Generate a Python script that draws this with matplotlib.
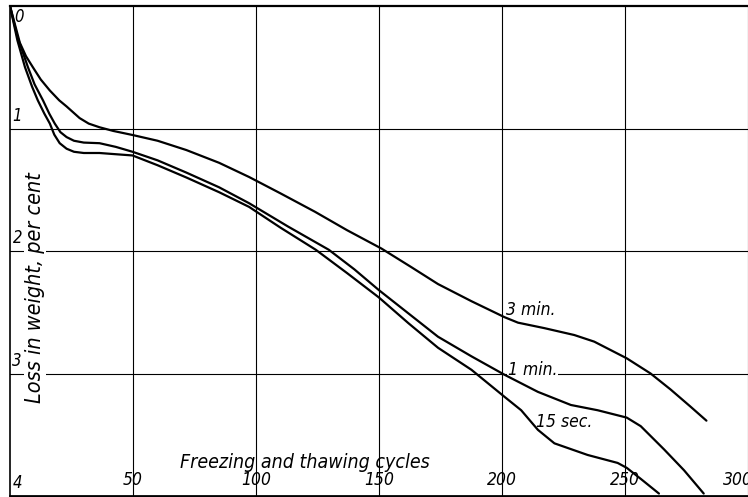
import matplotlib
matplotlib.use("Agg")
import matplotlib.pyplot as plt

# ---- data ----
x_3min = [0, 2, 4, 6.5, 9.3, 12.5, 16.2, 20, 23, 28.3, 32, 36.4, 42, 49.8, 60, 71.7, 85, 97.2, 110, 124,
          137, 151, 163, 174, 187.6, 201, 206.5, 217.3, 229.4, 237.5, 250.7, 260.4, 268.5, 276.6, 283.1]
y_3min = [0, 0.15, 0.30, 0.41, 0.50, 0.60, 0.69, 0.77, 0.82, 0.915, 0.96, 0.99, 1.02, 1.053, 1.10, 1.176, 1.28, 1.396, 1.53, 1.68,
          1.83, 1.98, 2.13, 2.27, 2.41, 2.54, 2.585, 2.63, 2.686, 2.74, 2.876, 3.0, 3.13, 3.27, 3.385]

x_1min = [0, 3, 7.3, 10, 13.4, 16, 18.2, 20.5, 23, 26, 30, 36.4, 43, 49.8, 60, 71.7, 85, 97.2, 113, 129.6,
          140, 150, 162, 174, 187.6, 201, 214.6, 228, 238.9, 250.7, 256.4, 265.9, 274, 282]
y_1min = [0, 0.25, 0.50, 0.64, 0.77, 0.88, 0.96, 1.03, 1.07, 1.10, 1.115, 1.12, 1.15, 1.19, 1.26, 1.36, 1.48, 1.61, 1.80, 1.99,
          2.15, 2.32, 2.51, 2.70, 2.86, 3.01, 3.15, 3.257, 3.30, 3.36, 3.43, 3.62, 3.79, 3.98]

x_15sec = [0, 3, 6.1, 9, 11.3, 14, 16.2, 18, 20.2, 23, 26, 30, 36.4, 43, 49.8, 60, 71.7, 85, 97.2, 110, 124.3,
           137, 150, 162, 174, 187.6, 201, 207.8, 214.6, 221.3, 234.8, 247, 250.7, 256.4, 263.8]
y_15sec = [0, 0.28, 0.50, 0.66, 0.77, 0.88, 0.96, 1.05, 1.12, 1.165, 1.19, 1.20, 1.20, 1.21, 1.22, 1.30, 1.40, 1.52, 1.64, 1.81, 1.99,
           2.18, 2.38, 2.59, 2.79, 2.97, 3.19, 3.30, 3.46, 3.57, 3.665, 3.73, 3.77, 3.86, 3.98]

x_ticks = [50, 100, 150, 200, 250, 300]
x_tick_labels = ["50", "100", "150", "200", "250", "300"]
y_ticks = [0, 1, 2, 3, 4]
y_tick_labels = ["0", "1", "2", "3", "4"]

series_labels = ["3 min.", "1 min.", "15 sec."]
xlabel = "Freezing and thawing cycles"
ylabel = "Loss in weight, per cent"

FAM = ["DejaVu Sans"]
plt.rcParams["font.family"] = FAM

fig = plt.figure(figsize=(7.48, 4.97), dpi=100)
ax = fig.add_axes([10 / 748, 1 / 497, 738 / 748, 490 / 497])
ax.set_xlim(0, 298.5)
ax.set_ylim(4, 0)

ax.set_xticks(x_ticks)
ax.set_yticks([1, 2, 3])
ax.tick_params(length=0, labelbottom=False, labelleft=False)
ax.set_axisbelow(True)
ax.grid(True, color="black", lw=0.8)

ax.spines["right"].set_visible(False)
ax.spines["top"].set_linewidth(1.6)
ax.spines["bottom"].set_linewidth(2.0)
ax.spines["left"].set_linewidth(1.2)

kw = dict(color="black", lw=1.6, zorder=4, solid_capstyle="round", solid_joinstyle="round")
ax.plot(x_3min, y_3min, **kw)
ax.plot(x_1min, y_1min, **kw)
ax.plot(x_15sec, y_15sec, **kw)

tfont = dict(family=FAM, style="italic", stretch="condensed", color="black")

# y tick labels inside the frame
ax.text(1.6, 0.02, y_tick_labels[0], ha="left", va="top", fontsize=12, **tfont)
for v, lab in zip(y_ticks[1:], y_tick_labels[1:]):
    ax.text(1.0, v - 0.03, lab, ha="left", va="bottom", fontsize=12, **tfont)

# x tick labels inside the frame
for v, lab in zip(x_ticks, x_tick_labels):
    xx = v - 4 if lab == "300" else v
    ax.text(xx, 3.87, lab, ha="center", va="center", fontsize=12.5, **tfont)

ax.text(120, 3.77, xlabel, ha="center", va="baseline", fontsize=14, **tfont)
ax.text(10.1, 2.30, ylabel, ha="center", va="center", rotation=90, fontsize=15.5,
        bbox=dict(facecolor="white", edgecolor="none", pad=1), zorder=3, **tfont)

lab_pos = [(201.6, 2.52), (202.4, 3.01), (213.8, 3.44)]
for (tx, ty), lab in zip(lab_pos, series_labels):
    bb = dict(facecolor="white", edgecolor="none", pad=0.5) if lab == "1 min." else None
    ax.text(tx, ty, lab, ha="left", va="baseline", fontsize=12.5, bbox=bb, zorder=3, **tfont)

fig.savefig("out.png", dpi=100)
